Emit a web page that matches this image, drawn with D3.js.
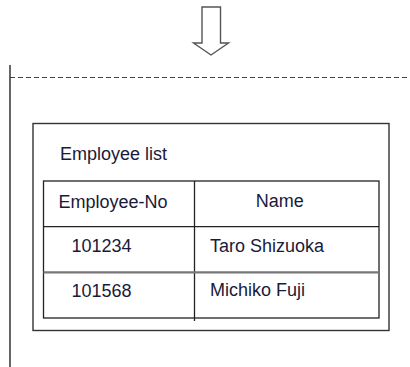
<!DOCTYPE html>
<html>
<head>
<meta charset="utf-8">
<script src="https://cdn.jsdelivr.net/npm/d3@7"></script>
<style>
  html, body { margin: 0; padding: 0; background: #fff; }
  svg { display: block; }
  text { font-family: "Liberation Sans", Arial, sans-serif; font-size: 18px; fill: #1a1a3a; }
</style>
</head>
<body>
<svg id="chart" width="410" height="367"></svg>
<script>
// ---- data ----
const title = "Employee list";
const columns = ["Employee-No", "Name"];
const employeeNos = ["101234", "101568"];
const names = ["Taro Shizuoka", "Michiko Fuji"];

// ---- layout ----
const svg = d3.select("#chart");
const W = 410, H = 367;

// arrow at top (outline)
const arrow = d3.path();
arrow.moveTo(202, 7); arrow.lineTo(220.5, 7); arrow.lineTo(220.5, 43);
arrow.lineTo(228.5, 43); arrow.lineTo(211, 55); arrow.lineTo(193.5, 43);
arrow.lineTo(202, 43); arrow.closePath();
svg.append("path").attr("d", arrow.toString())
  .attr("fill", "#fff").attr("stroke", "#555").attr("stroke-width", 1.4)
  .attr("stroke-linejoin", "miter");

// dashed line and left vertical
svg.append("line").attr("x1", 10).attr("x2", W).attr("y1", 77.5).attr("y2", 77.5)
  .attr("stroke", "#444").attr("stroke-width", 1.2).attr("stroke-dasharray", "5,3");
svg.append("line").attr("x1", 10).attr("x2", 10).attr("y1", 65).attr("y2", H)
  .attr("stroke", "#333").attr("stroke-width", 1.5);

// outer box
svg.append("rect").attr("x", 33).attr("y", 123.5).attr("width", 356).attr("height", 207)
  .attr("fill", "none").attr("stroke", "#333").attr("stroke-width", 1.4);

svg.append("text").attr("x", 60).attr("y", 160).text(title);

// table scales
const colEdges = [43.5, 194.5, 379];
const x = d3.scaleOrdinal().domain(columns).range(colEdges.slice(0, 2));
const xEnd = d3.scaleOrdinal().domain(columns).range(colEdges.slice(1));
const rowKeys = ["header"].concat(employeeNos);
const y = d3.scaleBand().domain(rowKeys).range([181, 318]).paddingInner(0).paddingOuter(0);

const g = svg.append("g");
// table outer rect
g.append("rect").attr("x", colEdges[0]).attr("y", 181)
  .attr("width", colEdges[2] - colEdges[0]).attr("height", 318 - 181)
  .attr("fill", "none").attr("stroke", "#222").attr("stroke-width", 1.3);
// column divider
g.append("line").attr("x1", xEnd(columns[0])).attr("x2", xEnd(columns[0]))
  .attr("y1", 181).attr("y2", 321).attr("stroke", "#222").attr("stroke-width", 1.3);
// row lines
g.append("line").attr("x1", colEdges[0]).attr("x2", colEdges[2])
  .attr("y1", y(employeeNos[0])).attr("y2", y(employeeNos[0]))
  .attr("stroke", "#222").attr("stroke-width", 1.3);
g.append("line").attr("x1", colEdges[0]).attr("x2", colEdges[2])
  .attr("y1", y(employeeNos[1])).attr("y2", y(employeeNos[1]))
  .attr("stroke", "#777").attr("stroke-width", 2.4);

// header texts
g.append("text").attr("x", x(columns[0]) + 15).attr("y", y("header") + 27).text(columns[0]);
g.append("text").attr("x", (x(columns[1]) + xEnd(columns[1])) / 2 - 7)
  .attr("y", y("header") + 26).attr("text-anchor", "middle").text(columns[1]);

// rows
employeeNos.forEach((no, i) => {
  const yy = y(no) + (i === 0 ? 25.5 : 24.5);
  g.append("text").attr("x", x(columns[0]) + 28).attr("y", yy).text(no);
  g.append("text").attr("x", x(columns[1]) + 15.5).attr("y", yy - (i === 0 ? 0 : 1)).text(names[i]);
});
</script>
</body>
</html>
